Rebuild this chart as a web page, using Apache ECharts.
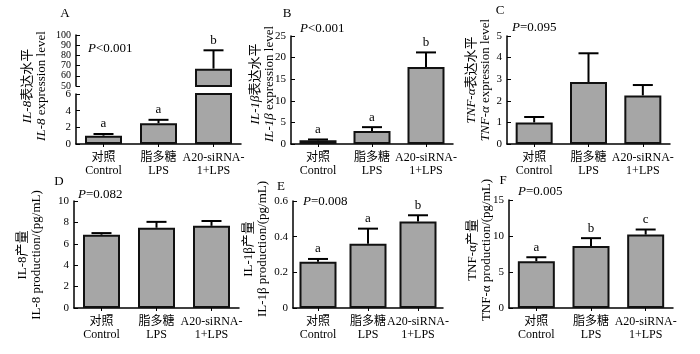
<!DOCTYPE html>
<html>
<head>
<meta charset="utf-8">
<script src="https://cdn.jsdelivr.net/npm/echarts@6/dist/echarts.min.js"></script>
<style>
  html, body { margin: 0; padding: 0; background: #fff; }
  #container { width: 700px; height: 354px; }
</style>
</head>
<body>
<div id="container"></div>
<script>
// 数据
var categories = ['对照\nControl', '脂多糖\nLPS', 'A20-siRNA-\n1+LPS'];

var il8Expr = [1.0, 2.5, 67];
var il8ExprErr = [0.2, 0.4, 18];
var il8ExprSig = ['a', 'a', 'b'];

var il1bExpr = [0.85, 3.0, 17.8];
var il1bExprErr = [0.2, 0.9, 3.4];
var il1bExprSig = ['a', 'a', 'b'];

var tnfExpr = [1.0, 2.87, 2.25];
var tnfExprErr = [0.25, 1.33, 0.48];
var tnfExprSig = ['', '', ''];

var il8Prod = [6.85, 7.5, 7.68];
var il8ProdErr = [0.15, 0.55, 0.45];
var il8ProdSig = ['', '', ''];

var il1bProd = [0.26, 0.36, 0.485];
var il1bProdErr = [0.015, 0.085, 0.035];
var il1bProdSig = ['a', 'a', 'b'];

var tnfProd = [6.5, 8.6, 10.2];
var tnfProdErr = [0.55, 1.1, 0.7];
var tnfProdSig = ['a', 'b', 'c'];

var pValues = ['{i|P}{n|<0.001}', '{i|P}{n|<0.001}', '{i|P}{n|=0.095}',
               '{i|P}{n|=0.082}', '{i|P}{n|=0.008}', '{i|P}{n|=0.005}'];

var font = '"Liberation Serif", "Noto Sans CJK SC", serif';

var dom = document.getElementById('container');
var myChart = echarts.init(dom);

function xAx(g, show) {
    return {
        type: 'category', gridIndex: g, data: categories, show: show,
        axisLine: { lineStyle: { color: '#000', width: 1.5 } },
        axisTick: { show: true, alignWithLabel: true, length: 3, lineStyle: { color: '#000' } },
        axisLabel: { color: '#000', fontFamily: font, fontSize: 12, lineHeight: 13, margin: 7, interval: 0 }
    };
}

function yAx(g, min, max, step, fs) {
    return {
        type: 'value', gridIndex: g, min: min, max: max, interval: step,
        splitLine: { show: false },
        axisLine: { show: true, lineStyle: { color: '#000', width: 1.5 } },
        axisTick: { show: true, inside: true, length: 4, lineStyle: { color: '#000' } },
        axisLabel: { color: '#000', fontFamily: font, fontSize: fs || 11, margin: 5,
                     showMinLabel: true, showMaxLabel: true, hideOverlap: false }
    };
}

// 误差线 + 显著性字母
function errRender(sig) {
    return function (params, api) {
        var x = api.value(0);
        var mean = api.value(1);
        var top = mean + api.value(2);
        var p = api.coord([x, top]);
        var b = api.coord([x, mean]);
        var cs = params.coordSys;
        if (p[1] < cs.y - 1 || p[1] > cs.y + cs.height) return null;
        var ls = { stroke: '#000', lineWidth: 2 };
        var children = [
            { type: 'line', shape: { x1: p[0], y1: b[1], x2: p[0], y2: p[1] }, style: ls },
            { type: 'line', shape: { x1: p[0] - 10, y1: p[1], x2: p[0] + 10, y2: p[1] }, style: ls }
        ];
        var s = sig[params.dataIndex];
        if (s) {
            children.push({
                type: 'text',
                style: { text: s, x: p[0], y: p[1] - 10, align: 'center', verticalAlign: 'middle',
                         font: '13px ' + font, fill: '#000' }
            });
        }
        return { type: 'group', children: children };
    };
}

function bars(g, vals) {
    return {
        type: 'bar', xAxisIndex: g, yAxisIndex: g, data: vals, barWidth: 37, silent: true,
        itemStyle: { color: '#a6a6a6', borderColor: '#111', borderWidth: 2 }
    };
}

function errs(g, vals, e, sig) {
    return {
        type: 'custom', xAxisIndex: g, yAxisIndex: g, silent: true, z: 3,
        renderItem: errRender(sig),
        data: vals.map(function (v, i) { return [i, v, e[i]]; })
    };
}

var rich = {
    i: { fontStyle: 'italic', fontSize: 13, fontFamily: font, fill: '#000', color: '#000' },
    n: { fontSize: 13, fontFamily: font, fill: '#000', color: '#000' }
};

function txt(x, y, text, rot, align) {
    return {
        type: 'text', x: x, y: y, rotation: rot ? Math.PI / 2 : 0, silent: true,
        style: {
            text: text, rich: rich, font: '13px ' + font, fill: '#000',
            align: align || 'center', verticalAlign: 'middle', lineHeight: 14
        }
    };
}

var grids = [
    { left: 76, top: 35, width: 165, height: 51 },   // A 上段
    { left: 76, top: 94, width: 165, height: 50 },   // A 下段
    { left: 291, top: 36, width: 162, height: 108 }, // B
    { left: 507, top: 36, width: 163, height: 108 }, // C
    { left: 74, top: 201, width: 165, height: 107 }, // D
    { left: 293, top: 201, width: 150, height: 107 },// E
    { left: 509, top: 200, width: 164, height: 108 } // F
];
grids.forEach(function (g) { g.outerBoundsMode = 'none'; g.containLabel = false; });

option = {
    backgroundColor: '#fff',
    animation: false,
    grid: grids,
    xAxis: [xAx(0, false), xAx(1, true), xAx(2, true), xAx(3, true), xAx(4, true), xAx(5, true), xAx(6, true)],
    yAxis: [yAx(0, 50, 100, 10, 10), yAx(1, 0, 6, 2), yAx(2, 0, 25, 5), yAx(3, 0, 5, 1),
            yAx(4, 0, 10, 2), yAx(5, 0, 0.6, 0.2), yAx(6, 0, 15, 5)],
    series: [
        bars(0, il8Expr), errs(0, il8Expr, il8ExprErr, il8ExprSig),
        bars(1, il8Expr), errs(1, il8Expr, il8ExprErr, il8ExprSig),
        bars(2, il1bExpr), errs(2, il1bExpr, il1bExprErr, il1bExprSig),
        bars(3, tnfExpr), errs(3, tnfExpr, tnfExprErr, tnfExprSig),
        bars(4, il8Prod), errs(4, il8Prod, il8ProdErr, il8ProdSig),
        bars(5, il1bProd), errs(5, il1bProd, il1bProdErr, il1bProdSig),
        bars(6, tnfProd), errs(6, tnfProd, tnfProdErr, tnfProdSig)
    ],
    graphic: [
        // 面板字母
        txt(65, 14, 'A'), txt(287, 14, 'B'), txt(500, 11, 'C'),
        txt(59, 182, 'D'), txt(281, 187, 'E'), txt(503, 181, 'F'),
        // P 值
        txt(88, 49, pValues[0], false, 'left'),
        txt(300, 29, pValues[1], false, 'left'),
        txt(512, 28, pValues[2], false, 'left'),
        txt(78, 195, pValues[3], false, 'left'),
        txt(303, 202, pValues[4], false, 'left'),
        txt(518, 192, pValues[5], false, 'left'),
        // 纵轴标题
        txt(35, 86, '{i|IL-8}{n|表达水平}\n{i|IL-8}{n| expression level}', true),
        txt(263, 84, '{i|IL-1β}{n|表达水平}\n{i|IL-1β}{n| expression level}', true),
        txt(479, 80, '{i|TNF-α}{n|表达水平}\n{i|TNF-α}{n| expression level}', true),
        txt(30, 255, '{n|IL-8产量}\n{n|IL-8 production/(pg/mL)}', true),
        txt(256, 249, '{n|IL-1β产量}\n{n|IL-1β production/(pg/mL)}', true),
        txt(480, 250, '{n|TNF-α产量}\n{n|TNF-α production/(pg/mL)}', true)
    ]
};

myChart.setOption(option, true);
</script>
</body>
</html>
